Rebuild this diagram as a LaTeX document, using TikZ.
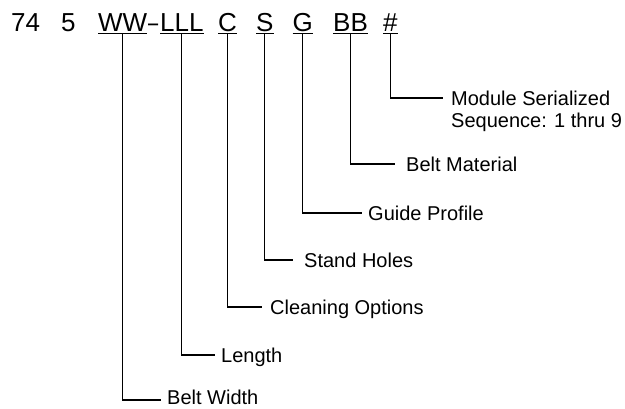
\documentclass[tikz,border=0pt]{standalone}
\usepackage{graphicx}
\usepackage{fontspec}
\setmainfont{Liberation Sans}
\begin{document}
\begin{tikzpicture}[x=1pt,y=-1pt,
  hdr/.style={inner sep=0pt, anchor=base west, font=\fontsize{26}{30}\selectfont},
  lbl/.style={inner sep=0pt, anchor=base west, font=\fontsize{20}{22}\selectfont},
  uline/.style={line width=1.8pt},
  conn/.style={line width=1.2pt}]
\useasboundingbox (0,0) rectangle (625,408);
% header code
\node[hdr] (n74) at (11,31.5) {74};
\node[hdr] (n5) at (61,31.5) {5};
\node[hdr] (ww) at (98,31.5) {WW};
\node[hdr] (dash) at (148,31.5) {\scalebox{0.7}[1]{–}};
\node[hdr] (lll) at (160,31.5) {LLL};
\node[hdr] (c) at (218,31.5) {C};
\node[hdr] (s) at (256,31.5) {S};
\node[hdr] (g) at (292.5,31.5) {G};
\node[hdr] (bb) at (333,31.5) {BB};
\node[hdr] (hs) at (383,31.5) {\#};
% underlines
\foreach \n in {ww,lll,c,s,g,bb,hs}
  \draw[uline] ([yshift=-2pt]\n.base west) -- ([yshift=-2pt]\n.base east);
% labels
\node[lbl] (lmod) at (451,105) {Module Serialized};
\node[lbl] (lseq) at (451,127) {Sequence: 1 thru 9};
\node[lbl] (lbm) at (406,171) {Belt Material};
\node[lbl] (lgp) at (368,220) {Guide Profile};
\node[lbl] (lsh) at (304,267) {Stand Holes};
\node[lbl] (lco) at (270,314) {Cleaning Options};
\node[lbl] (lle) at (221,362) {Length};
\node[lbl] (lbw) at (167,404) {Belt Width};
% connectors
\draw[conn] ([yshift=-2pt]hs.base) |- ([xshift=-8pt,yshift=7pt]lmod.base west);
\draw[conn] ([yshift=-2pt]bb.base) |- ([xshift=-11pt,yshift=7pt]lbm.base west);
\draw[conn] ([yshift=-2pt]g.base) |- ([xshift=-6pt,yshift=7pt]lgp.base west);
\draw[conn] ([yshift=-2pt]s.base) |- ([xshift=-11pt,yshift=7pt]lsh.base west);
\draw[conn] ([yshift=-2pt]c.base) |- ([xshift=-8pt,yshift=7pt]lco.base west);
\draw[conn] ([yshift=-2pt]lll.base) |- ([xshift=-6pt,yshift=7pt]lle.base west);
\draw[conn] ([yshift=-2pt]ww.base) |- ([xshift=-6pt,yshift=4pt]lbw.base west);
\end{tikzpicture}
\end{document}
